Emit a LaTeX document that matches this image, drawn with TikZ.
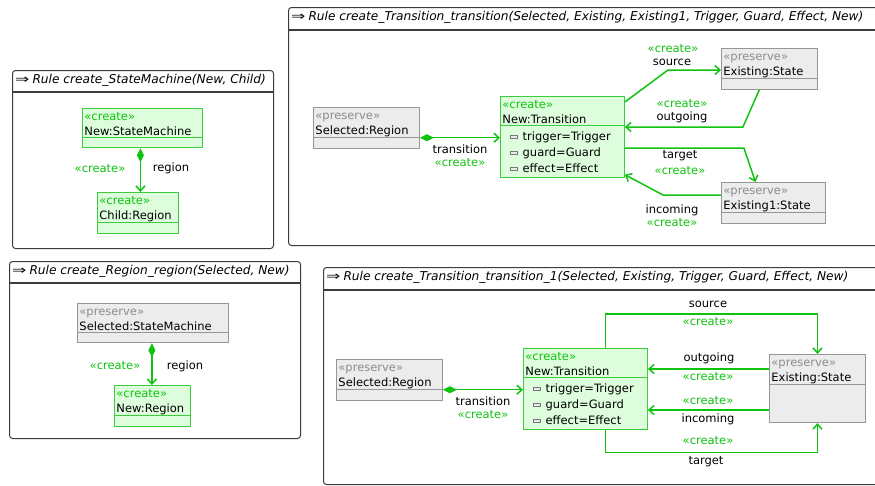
\documentclass[tikz,border=0pt]{standalone}
\usepackage{fontspec}
\usepackage{graphicx}
\setmainfont{DejaVu Sans}
\usetikzlibrary{arrows.meta,positioning,shapes.multipart}
\definecolor{crgreen}{RGB}{15,195,15}
\definecolor{crborder}{RGB}{60,205,60}
\definecolor{crfill}{RGB}{221,253,221}
\definecolor{pvfill}{RGB}{236,236,236}
\definecolor{pvedge}{RGB}{150,150,150}
\definecolor{pvtext}{RGB}{140,140,140}
\definecolor{iconedge}{RGB}{120,120,120}
\definecolor{iconfill}{RGB}{235,235,235}
\definecolor{frameline}{RGB}{60,60,60}
\newcommand{\crst}{\textcolor{crgreen}{«create»}}
\newcommand{\pvst}{\textcolor{pvtext}{«preserve»}}
\newcommand{\attricon}{\hspace*{8pt}\raisebox{2.5pt}{\setlength\fboxsep{0pt}\setlength\fboxrule{0.6pt}%
  \fcolorbox{iconedge}{iconfill}{\rule{6pt}{0pt}\rule{0pt}{3pt}}}\hspace{5pt}}
\newcommand{\headtop}{\rule{0pt}{12pt}}
\newcommand{\headbot}{\rule[-1pt]{0pt}{1pt}}
\newcommand{\emptypart}[1][9.5pt]{\rule{0pt}{#1}}
\newcommand{\ruleto}{{\upshape\scalebox{1.4}[1]{⇒}}\hspace{3pt}}
\newcommand{\diafont}{\fontsize{11.5}{15}\selectfont}
\tikzset{
  rulebox/.style={draw=frameline, line width=1pt, rounded corners=3pt, anchor=north west, inner sep=0pt},
  ruletitle/.style={anchor=west, font=\fontsize{12.2}{15}\selectfont\itshape, inner sep=1pt},
  titlesep/.style={draw=frameline, line width=1.5pt},
  cls/.style={rectangle split, rectangle split parts=2, anchor=north west, align=left,
              inner xsep=2pt, inner ysep=0pt, line width=0.9pt},
  createcls/.style={cls, draw=crborder, fill=crfill},
  preservecls/.style={cls, draw=pvedge, fill=pvfill},
  crline/.style={draw=crgreen, line width=1.5pt},
  contain/.style={crline, {Diamond[length=14pt,width=7pt]}-{Straight Barb[length=5pt,width=9pt]}},
  ref/.style={crline, -{Straight Barb[length=5pt,width=9pt]}},
  lbl/.style={inner sep=1pt},
  crlbl/.style={lbl, text=crgreen},
}
\begin{document}
\begin{tikzpicture}[x=1pt, y=-1pt, font=\diafont]
\path[use as bounding box, fill=white] (0,0) rectangle (875,485);
\clip (0,0) rectangle (875,485);

% Rule create_StateMachine
\node[rulebox, minimum width=261pt, minimum height=178pt] (fsm) at (12,70) {};
\node[ruletitle] (tsm) at ([xshift=2pt,yshift=-10.5pt]fsm.north west) {\ruleto Rule create\_StateMachine(New, Child)};
\draw[titlesep] ([yshift=-22pt]fsm.north west) -- ([yshift=-22pt]fsm.north east);
\node[createcls, text width=116pt] (nsm) at (82,108) {\headtop\crst\\New:StateMachine\headbot \nodepart{two}\emptypart};
\node[createcls, text width=77pt] (cr) at (97,192) {\headtop\crst\\Child:Region\headbot \nodepart{two}\emptypart};
\draw[contain] ([xshift=-2pt]nsm.south) -- ([xshift=-2pt]nsm.south |- cr.north);
\node[crlbl] (lsmc) at (100,169) {«create»};
\node[lbl] (lsmr) at (171,168) {region};

% Rule create_Region_region
\node[rulebox, minimum width=291pt, minimum height=177pt] (frg) at (9,261) {};
\node[ruletitle] (trg) at ([xshift=2pt,yshift=-10.5pt]frg.north west) {\ruleto Rule create\_Region\_region(Selected, New)};
\draw[titlesep] ([yshift=-22pt]frg.north west) -- ([yshift=-22pt]frg.north east);
\node[preservecls, text width=147pt] (ssm) at (77,303) {\headtop\pvst\\Selected:StateMachine\headbot \nodepart{two}\emptypart};
\node[createcls, text width=72pt] (nr) at (114,385) {\headtop\crst\\New:Region\headbot \nodepart{two}\emptypart};
\draw[contain] ([xshift=-1pt]ssm.south) -- ([xshift=-1pt]ssm.south |- nr.north);
\node[crlbl] (lrgc) at (115,366) {«create»};
\node[lbl] (lrgr) at (185,366) {region};

% Rule create_Transition_transition
\node[rulebox, minimum width=640pt, minimum height=238pt] (ftt) at (288,7) {};
\node[ruletitle] (ttt) at ([xshift=2pt,yshift=-10.5pt]ftt.north west) {\ruleto Rule create\_Transition\_transition(Selected, Existing, Existing1, Trigger, Guard, Effect, New)};
\draw[titlesep] ([yshift=-23pt]ftt.north west) -- ([yshift=-23pt]ftt.north east);
\node[preservecls, text width=102pt] (sr) at (313,107) {\headtop\pvst\\Selected:Region\headbot \nodepart{two}\emptypart};
\node[createcls, text width=120pt] (nt) at (500,96) {\headtop\crst\\New:Transition\headbot
  \nodepart{two}\rule{0pt}{15pt}\attricon trigger=Trigger\\[1pt]\attricon guard=Guard\\[1pt]\attricon effect=Effect\rule[-4pt]{0pt}{4pt}};
\node[preservecls, text width=92pt] (es) at (721,48) {\headtop\pvst\\Existing:State\headbot \nodepart{two}\emptypart};
\node[preservecls, text width=100pt] (eo) at (721,182) {\headtop\pvst\\Existing1:State\headbot \nodepart{two}\emptypart};
\draw[contain] (sr.text split east) -- (sr.text split east -| nt.west);
\draw[ref] ([yshift=-6pt]nt.north east) -- ([xshift=-53pt,yshift=-22pt]es.north west) -- ([yshift=-22pt]es.north west);
\draw[ref] ([xshift=-10pt]es.south) -- ([xshift=118pt,yshift=-31pt]nt.north east) -- ([yshift=-31pt]nt.north east);
\draw[ref] ([yshift=-52pt]nt.north east) -- ([xshift=119pt,yshift=-52pt]nt.north east) -- ([xshift=-18pt]eo.north);
\draw[ref] ([yshift=-13pt]eo.north west) -- ([xshift=-58pt,yshift=-13pt]eo.north west) -- ([yshift=3pt]nt.south east);
\node[lbl] (lttt) at (460,149) {transition};
\node[crlbl] (lttc) at (460,163) {«create»};
\node[crlbl] (ltsc) at (673,49) {«create»};
\node[lbl] (lts) at (672,62) {source};
\node[crlbl] (ltoc) at (682,104) {«create»};
\node[lbl] (lto) at (682,117) {outgoing};
\node[lbl] (ltg) at (680,156) {target};
\node[crlbl] (ltgc) at (680,171) {«create»};
\node[lbl] (lti) at (672,210) {incoming};
\node[crlbl] (ltic) at (672,223) {«create»};

% Rule create_Transition_transition_1
\node[rulebox, minimum width=600pt, minimum height=217pt] (fto) at (323,267) {};
\node[ruletitle] (tto) at ([xshift=2pt,yshift=-10.5pt]fto.north west) {\ruleto Rule create\_Transition\_transition\_1(Selected, Existing, Trigger, Guard, Effect, New)};
\draw[titlesep] ([yshift=-23pt]fto.north west) -- ([yshift=-23pt]fto.north east);
\node[preservecls, text width=102pt] (srb) at (336,359) {\headtop\pvst\\Selected:Region\headbot \nodepart{two}\emptypart};
\node[createcls, text width=120pt] (ntb) at (523,348) {\headtop\crst\\New:Transition\headbot
  \nodepart{two}\rule{0pt}{15pt}\attricon trigger=Trigger\\[1pt]\attricon guard=Guard\\[1pt]\attricon effect=Effect\rule[-4pt]{0pt}{4pt}};
\node[preservecls, text width=92pt] (esb) at (769,354) {\headtop\pvst\\Existing:State\headbot \nodepart{two}\emptypart[37pt]};
\draw[contain] (srb.text split east) -- (srb.text split east -| ntb.west);
\draw[ref] ([xshift=20pt]ntb.north) -- ++(0,-34) -| (esb.north);
\draw[ref] ([yshift=-15pt]esb.north west) -- ([yshift=-15pt]esb.north west -| ntb.east);
\draw[ref] ([yshift=-56pt]esb.north west) -- ([yshift=-56pt]esb.north west -| ntb.east);
\draw[ref] ([xshift=20pt]ntb.south) -- ++(0,23) -| (esb.south);
\node[lbl] (lbtt) at (483,401) {transition};
\node[crlbl] (lbtc) at (483,415) {«create»};
\node[lbl] (lbs) at (708,304) {source};
\node[crlbl] (lbsc) at (708,322) {«create»};
\node[lbl] (lbo) at (709,358) {outgoing};
\node[crlbl] (lboc) at (708,377) {«create»};
\node[crlbl] (lbic) at (708,401) {«create»};
\node[lbl] (lbi) at (708,419) {incoming};
\node[crlbl] (lbgc) at (708,441) {«create»};
\node[lbl] (lbg) at (706,462) {target};

\end{tikzpicture}
\end{document}
